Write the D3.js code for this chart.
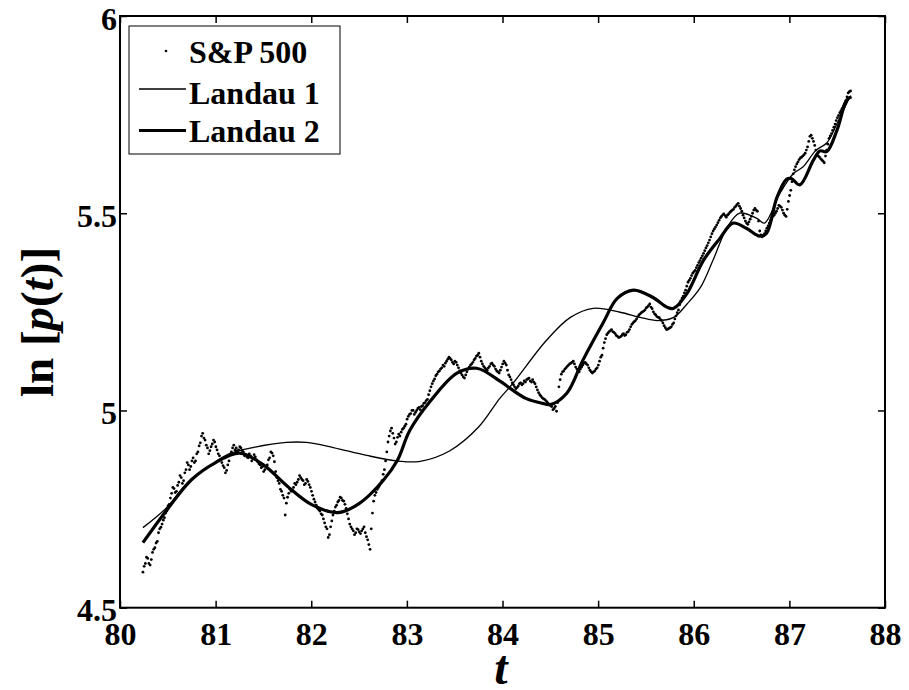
<!DOCTYPE html>
<html><head><meta charset="utf-8">
<script src="https://cdn.jsdelivr.net/npm/d3@7"></script>
<style>body{margin:0;background:#fff}</style>
</head><body>
<svg id="chart" width="909" height="690" font-family="Liberation Serif, serif"></svg>
<script>
const xTicks = [80, 81, 82, 83, 84, 85, 86, 87, 88];
const yTicks = [4.5, 5, 5.5, 6];
const seriesNames = ["S&P 500", "Landau 1", "Landau 2"];

// S&P 500 log price, read on two interleaved regular time grids
const spStartA = 80.24, spStartB = 80.2525, spStep = 0.025;
const sp500A = [
4.590,4.612,4.625,4.608,4.640,4.652,4.668,4.700,4.712,4.728,
4.745,4.762,4.790,4.802,4.795,4.818,4.830,4.822,4.850,4.862,
4.858,4.880,4.872,4.895,4.918,4.942,4.925,4.905,4.898,4.915,
4.920,4.900,4.885,4.868,4.855,4.848,4.872,4.895,4.912,4.905,
4.900,4.905,4.895,4.888,4.880,4.885,4.878,4.882,4.870,4.862,
4.858,4.850,4.862,4.880,4.892,4.870,4.830,4.815,4.795,4.778,
4.765,4.790,4.795,4.805,4.812,4.825,4.830,4.822,4.815,4.820,
4.805,4.785,4.768,4.752,4.745,4.735,4.715,4.700,4.685,4.720,
4.745,4.760,4.772,4.778,4.770,4.752,4.725,4.705,4.695,4.690,
4.698,4.688,4.700,4.690,4.672,4.648,4.740,4.785,4.800,4.810,
4.822,4.850,4.895,4.935,4.955,4.930,4.920,4.940,4.945,4.955,
4.965,4.985,4.992,5.000,4.995,5.005,5.002,5.012,5.020,5.028,
5.050,5.068,5.080,5.092,5.100,5.108,5.112,5.125,5.135,5.128,
5.118,5.122,5.108,5.095,5.085,5.090,5.105,5.115,5.122,5.132,
5.140,5.135,5.118,5.108,5.102,5.112,5.120,5.112,5.100,5.095,
5.110,5.125,5.115,5.090,5.078,5.065,5.055,5.062,5.070,5.068,
5.072,5.080,5.075,5.078,5.068,5.052,5.040,5.032,5.028,5.022,
5.015,5.010,5.005,4.998,5.060,5.092,5.100,5.108,5.115,5.120,
5.125,5.110,5.100,5.105,5.115,5.122,5.115,5.102,5.095,5.100,
5.108,5.125,5.140,5.172,5.192,5.200,5.205,5.198,5.190,5.185,
5.188,5.195,5.192,5.200,5.212,5.222,5.228,5.238,5.245,5.250,
5.255,5.262,5.270,5.258,5.245,5.238,5.235,5.228,5.215,5.205,
5.208,5.212,5.222,5.240,5.255,5.278,5.290,5.305,5.325,5.335,
5.348,5.355,5.368,5.380,5.392,5.405,5.418,5.432,5.448,5.460,
5.470,5.482,5.492,5.498,5.490,5.498,5.505,5.510,5.518,5.525,
5.512,5.495,5.480,5.472,5.485,5.500,5.512,5.505,5.455,5.440,
5.448,5.462,5.475,5.488,5.495,5.505,5.520,5.515,5.500,5.492,
5.530,5.558,5.600,5.618,5.630,5.640,5.645,5.652,5.668,5.695,
5.690,5.672,5.650,5.642,5.635,5.628,5.660,5.690,5.702,5.718,
5.735,5.748,5.760,5.772,5.785,5.805,5.810
];
const sp500B = [
4.605,4.628,4.612,4.622,4.648,4.664,4.690,4.704,4.722,4.740,
4.758,4.778,4.805,4.792,4.810,4.835,4.815,4.842,4.868,4.850,
4.872,4.868,4.890,4.910,4.935,4.930,4.912,4.890,4.908,4.925,
4.908,4.890,4.875,4.860,4.842,4.862,4.888,4.905,4.900,4.898,
4.908,4.898,4.885,4.882,4.890,4.872,4.888,4.875,4.865,4.855,
4.845,4.858,4.875,4.895,4.885,4.845,4.822,4.800,4.785,4.735,
4.780,4.800,4.798,4.815,4.818,4.835,4.825,4.812,4.825,4.812,
4.795,4.775,4.760,4.748,4.738,4.725,4.705,4.678,4.705,4.735,
4.755,4.768,4.780,4.772,4.762,4.738,4.712,4.700,4.685,4.700,
4.692,4.695,4.705,4.680,4.660,4.700,4.770,4.792,4.805,4.815,
4.838,4.872,4.920,4.948,4.942,4.915,4.932,4.935,4.952,4.960,
4.978,4.990,5.000,4.990,5.000,5.008,5.010,5.018,5.025,5.040,
5.060,5.075,5.088,5.098,5.105,5.115,5.120,5.130,5.132,5.122,
5.125,5.115,5.100,5.090,5.082,5.098,5.110,5.118,5.128,5.138,
5.145,5.125,5.112,5.105,5.108,5.118,5.115,5.105,5.098,5.102,
5.118,5.120,5.102,5.085,5.070,5.060,5.058,5.068,5.065,5.075,
5.078,5.082,5.072,5.072,5.060,5.045,5.036,5.030,5.025,5.018,
5.012,5.002,5.010,5.020,5.078,5.098,5.105,5.112,5.118,5.122,
5.118,5.105,5.098,5.110,5.120,5.118,5.108,5.098,5.098,5.105,
5.115,5.135,5.158,5.182,5.196,5.202,5.200,5.195,5.188,5.186,
5.192,5.190,5.198,5.205,5.218,5.225,5.232,5.242,5.248,5.252,
5.260,5.266,5.262,5.250,5.242,5.236,5.230,5.222,5.210,5.206,
5.210,5.218,5.232,5.248,5.268,5.285,5.298,5.315,5.330,5.342,
5.352,5.362,5.375,5.386,5.398,5.412,5.425,5.440,5.455,5.465,
5.476,5.488,5.496,5.494,5.495,5.502,5.508,5.515,5.522,5.518,
5.505,5.488,5.475,5.478,5.492,5.508,5.508,5.480,5.445,5.444,
5.455,5.468,5.482,5.492,5.500,5.512,5.518,5.508,5.495,5.510,
5.545,5.580,5.610,5.625,5.636,5.642,5.648,5.660,5.682,5.698,
5.682,5.660,5.645,5.638,5.632,5.645,5.675,5.696,5.710,5.726,
5.742,5.755,5.766,5.778,5.795,5.808
];

const landau1T = [80.24,80.49,80.70,80.94,81.15,81.39,81.74,81.95,82.23,82.58,82.93,83.14,83.45,83.75,83.97,84.11,84.46,84.71,84.95,85.23,85.44,85.62,85.79,85.93,86.07,86.20,86.35,86.48,86.66,86.74,86.90,87.04,87.14,87.28,87.39,87.50,87.63];
const landau1V = [4.703,4.754,4.815,4.860,4.891,4.906,4.919,4.919,4.906,4.886,4.871,4.871,4.898,4.958,5.030,5.069,5.178,5.236,5.259,5.249,5.236,5.228,5.236,5.270,5.312,5.380,5.464,5.500,5.487,5.475,5.550,5.600,5.617,5.660,5.678,5.728,5.794];

const landau2T = [80.24,80.50,80.75,81.00,81.25,81.50,81.75,82.00,82.28,82.50,82.75,82.90,83.03,83.25,83.52,83.73,83.97,84.08,84.25,84.42,84.50,84.67,84.84,85.05,85.20,85.37,85.57,85.72,85.79,85.93,86.10,86.27,86.41,86.55,86.69,86.76,86.87,86.97,87.02,87.11,87.25,87.32,87.39,87.50,87.60,87.65];
const landau2V = [4.665,4.751,4.825,4.868,4.892,4.862,4.808,4.762,4.741,4.764,4.822,4.873,4.949,5.025,5.094,5.107,5.075,5.056,5.030,5.018,5.015,5.043,5.127,5.221,5.284,5.305,5.287,5.262,5.259,5.297,5.380,5.435,5.475,5.462,5.442,5.449,5.540,5.586,5.588,5.572,5.634,5.658,5.656,5.712,5.787,5.795];

const svg = d3.select("#chart");
const L = 120, R = 885, T = 16, B = 607.7;
const x = d3.scaleLinear().domain([80, 88]).range([L, R]);
const y = d3.scaleLinear().domain([4.5, 6]).range([B, T]);

function serif(sel) {
  return sel.attr("font-family", "Liberation Serif").style("font-family", "'Liberation Serif'").attr("font-weight", "bold").attr("fill", "#000");
}

const spPoints = sp500A.map((v, i) => [spStartA + i * spStep, v])
  .concat(sp500B.map((v, i) => [spStartB + i * spStep, v]));

const plot = svg.append("g");
plot.selectAll("circle.sp").data(spPoints).enter().append("circle")
  .attr("class", "sp")
  .attr("cx", d => x(d[0]))
  .attr("cy", d => y(d[1]))
  .attr("r", 1.4).attr("fill", "#000");

const line = d3.line().x(d => x(d[0])).y(d => y(d[1])).curve(d3.curveCatmullRom.alpha(0.5));
plot.append("path").datum(landau1T.map((t, i) => [t, landau1V[i]]))
  .attr("d", line).attr("fill", "none").attr("stroke", "#000").attr("stroke-width", 1.3);
plot.append("path").datum(landau2T.map((t, i) => [t, landau2V[i]]))
  .attr("d", line).attr("fill", "none").attr("stroke", "#000").attr("stroke-width", 3.2);

const tickLen = 7;
const axB = svg.append("g").attr("transform", `translate(0,${B})`)
  .call(d3.axisBottom(x).tickValues(xTicks).tickSizeInner(-tickLen).tickSizeOuter(0).tickFormat(d3.format("d")));
const axT = svg.append("g").attr("transform", `translate(0,${T})`)
  .call(d3.axisTop(x).tickValues(xTicks).tickSizeInner(-tickLen).tickSizeOuter(0).tickFormat(""));
const axL = svg.append("g").attr("transform", `translate(${L},0)`)
  .call(d3.axisLeft(y).tickValues(yTicks).tickSizeInner(-tickLen).tickSizeOuter(0).tickFormat(d => d));
const axR = svg.append("g").attr("transform", `translate(${R},0)`)
  .call(d3.axisRight(y).tickValues(yTicks).tickSizeInner(-tickLen).tickSizeOuter(0).tickFormat(""));
[axB, axT, axL, axR].forEach(a => {
  a.attr("font-family", "Liberation Serif").attr("font-size", 32);
  a.select(".domain").remove();
  a.selectAll(".tick line").attr("stroke", "#000").attr("stroke-width", 1.5);
  serif(a.selectAll("text")).attr("font-size", 32);
});
axB.selectAll("text").attr("dy", null).attr("y", 37);
axL.selectAll("text").attr("dy", null).attr("y", 13).attr("x", -3);

svg.append("rect").attr("x", L).attr("y", T).attr("width", R - L).attr("height", B - T)
  .attr("fill", "none").attr("stroke", "#000").attr("stroke-width", 2);

const yl = serif(svg.append("text")).attr("transform", "translate(53,322) rotate(-90)")
  .attr("text-anchor", "middle").attr("font-size", 47);
yl.append("tspan").text("ln [");
yl.append("tspan").attr("font-style", "italic").text("p");
yl.append("tspan").text("(");
yl.append("tspan").attr("font-style", "italic").text("t");
yl.append("tspan").text(")]");

serif(svg.append("text")).attr("x", 501).attr("y", 684).attr("text-anchor", "middle")
  .attr("font-size", 48).attr("font-style", "italic").text("t");

const lg = svg.append("g");
lg.append("rect").attr("x", 129).attr("y", 26).attr("width", 211).attr("height", 128)
  .attr("fill", "#fff").attr("stroke", "#000").attr("stroke-width", 1);
const rows = [63, 104, 142];
const sym = [51, 89, 130.5];
lg.append("circle").attr("cx", 166).attr("cy", sym[0]).attr("r", 1.3).attr("fill", "#000");
lg.append("line").attr("x1", 139).attr("x2", 186).attr("y1", sym[1]).attr("y2", sym[1]).attr("stroke", "#000").attr("stroke-width", 1.3);
lg.append("line").attr("x1", 139).attr("x2", 186).attr("y1", sym[2]).attr("y2", sym[2]).attr("stroke", "#000").attr("stroke-width", 3.2);
seriesNames.forEach((n, i) => {
  serif(lg.append("text")).attr("x", 189).attr("y", rows[i]).attr("font-size", 32).text(n);
});
</script>
</body></html>
